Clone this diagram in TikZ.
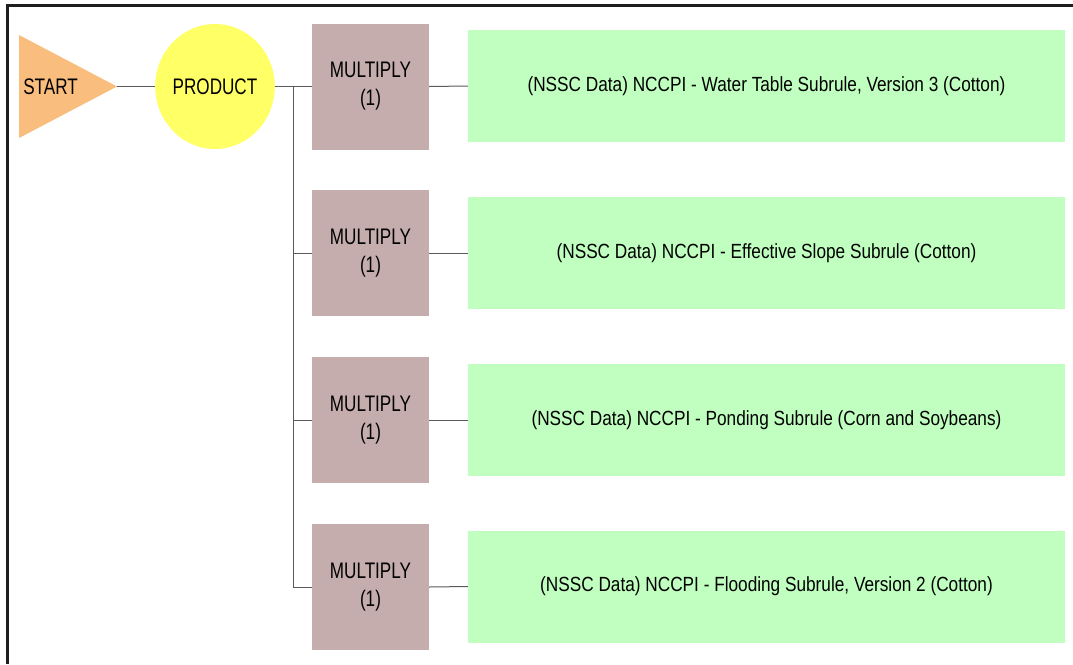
\documentclass[tikz,border=0pt]{standalone}
\usepackage{fontspec}
\setmainfont{Liberation Sans}[FakeStretch=0.84]
\newfontfamily\tallfont{Liberation Sans}[FakeStretch=0.76]
\usetikzlibrary{shapes.geometric}
\definecolor{startc}{RGB}{249,190,125}
\definecolor{prodc}{RGB}{255,255,102}
\definecolor{multc}{RGB}{197,172,173}
\definecolor{rulec}{RGB}{192,255,192}
\definecolor{linkc}{RGB}{90,90,90}
\definecolor{framec}{RGB}{30,30,30}
\begin{document}
\begin{tikzpicture}[x=1pt,y=-1pt,
  font=\fontsize{20.5}{27}\selectfont,
  tall/.style={font=\tallfont\fontsize{22.5}{28}\selectfont},
  mult/.style={tall, fill=multc, minimum width=117pt, minimum height=126pt, align=center, inner sep=0pt},
  rulebox/.style={fill=rulec, minimum width=597pt, minimum height=112pt, inner sep=0pt},
  link/.style={draw=linkc, line width=1pt},
  frame/.style={draw=framec, line width=2.5pt}]
\useasboundingbox[fill=white] (0,0) rectangle (1073,664);
\draw[frame] (7.5,664) -- (7.5,5.5) -- (1073,5.5);
% start triangle
\fill[startc] (19,35) -- (117,86.5) -- (19,138) -- cycle;
\coordinate (starttip) at (117,86.5);
\node[tall, inner sep=0pt] (start) at (50.5,86.5) {START};
% product
\node[tall, ellipse, fill=prodc, minimum width=116pt, minimum height=125pt, inner sep=0pt] (product) at (215,86.5) {PRODUCT};
% multiply boxes
\node[mult] (m1) at (370.5,86.5) {MULTIPLY\\(1)};
\node[mult] (m2) at (370.5,253) {MULTIPLY\\(1)};
\node[mult] (m3) at (370.5,420) {MULTIPLY\\(1)};
\node[mult] (m4) at (370.5,587) {MULTIPLY\\(1)};
% rule boxes
\node[rulebox] (r1) at (766.5,86) {(NSSC Data) NCCPI - Water Table Subrule, Version 3 (Cotton)};
\node[rulebox] (r2) at (766.5,253) {(NSSC Data) NCCPI - Effective Slope Subrule (Cotton)};
\node[rulebox] (r3) at (766.5,420) {(NSSC Data) NCCPI - Ponding Subrule (Corn and Soybeans)};
\node[rulebox] (r4) at (766.5,586.5) {(NSSC Data) NCCPI - Flooding Subrule, Version 2 (Cotton)};
% connectors
\coordinate (bus) at (293,86.5);
\draw[link] (starttip) -- (product.west);
\draw[link] (product.east) -- (m1.west);
\draw[link] (bus) |- (m2.west);
\draw[link] (bus) |- (m3.west);
\draw[link] (bus) |- (m4.west);
\draw[link] (m1.east) -- (r1.west);
\draw[link] (m2.east) -- (r2.west);
\draw[link] (m3.east) -- (r3.west);
\draw[link] (m4.east) -- (r4.west);
\end{tikzpicture}
\end{document}
